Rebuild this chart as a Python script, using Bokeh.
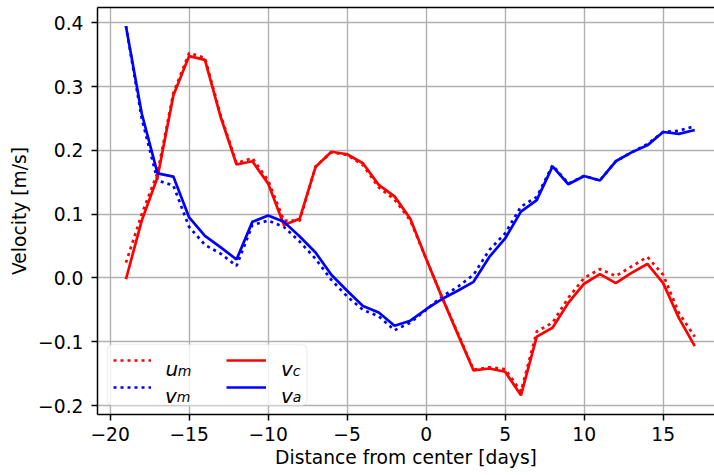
from bokeh.plotting import figure
from bokeh.models import (Range1d, FixedTicker, CustomJSTickFormatter, LinearAxis,
                          Legend, LegendItem, BoxAnnotation, Label)
from bokeh.embed import file_html
from bokeh.resources import INLINE

days = list(range(-19, 18))

u_m = [0.024, 0.100, 0.165, 0.290, 0.353, 0.345, 0.255, 0.180, 0.188, 0.153,
       0.090, 0.090, 0.175, 0.197, 0.193, 0.177, 0.142, 0.123, 0.090, 0.030,
       -0.030, -0.086, -0.144, -0.140, -0.143, -0.178, -0.084, -0.070, -0.031, 0.000,
       0.014, 0.003, 0.018, 0.033, 0.005, -0.055, -0.092]

v_m = [0.395, 0.250, 0.153, 0.145, 0.080, 0.052, 0.038, 0.019, 0.083, 0.090,
       0.080, 0.057, 0.030, -0.003, -0.029, -0.050, -0.060, -0.082, -0.070, -0.050,
       -0.029, -0.014, 0.005, 0.044, 0.070, 0.112, 0.127, 0.177, 0.148, 0.160,
       0.153, 0.183, 0.197, 0.210, 0.229, 0.231, 0.238]

v_c = [-0.002, 0.090, 0.158, 0.286, 0.348, 0.342, 0.252, 0.178, 0.183, 0.148,
       0.083, 0.093, 0.174, 0.198, 0.194, 0.180, 0.146, 0.128, 0.093, 0.030,
       -0.030, -0.088, -0.145, -0.142, -0.147, -0.184, -0.092, -0.078, -0.039, -0.009,
       0.006, -0.008, 0.008, 0.022, -0.008, -0.063, -0.107]

v_a = [0.395, 0.258, 0.164, 0.159, 0.095, 0.066, 0.048, 0.029, 0.088, 0.098,
       0.088, 0.065, 0.040, 0.005, -0.020, -0.044, -0.054, -0.075, -0.067, -0.049,
       -0.033, -0.020, -0.006, 0.033, 0.062, 0.104, 0.122, 0.175, 0.147, 0.160,
       0.153, 0.183, 0.197, 0.208, 0.229, 0.226, 0.232]

x_ticks = [-20, -15, -10, -5, 0, 5, 10, 15]
y_ticks = [-0.2, -0.1, 0.0, 0.1, 0.2, 0.3, 0.4]

x_label = "Distance from center [days]"
y_label = "Velocity [m/s]"

# legend texts: (main letter, subscript)
legend_texts = [("u", "m"), ("v", "m"), ("v", "c"), ("v", "a")]

FONT = "DejaVu Sans"
FS = "18.7px"
LW = 2.7

p = figure(width=714, height=475, output_backend="svg", toolbar_location=None,
           x_range=Range1d(-20.8, 18.25), y_range=Range1d(-0.2141, 0.4242),
           min_border_left=97, min_border_right=0, min_border_top=7, min_border_bottom=61)
p.outline_line_color = None
p.background_fill_color = "white"
p.border_fill_color = "white"

r_um = p.line(days, u_m, line_color="red", line_width=LW, line_dash="3 4")
r_vm = p.line(days, v_m, line_color="blue", line_width=LW, line_dash="3 4")
r_vc = p.line(days, v_c, line_color="red", line_width=LW)
r_va = p.line(days, v_a, line_color="blue", line_width=LW)

for ax, ticks, fmt in ((p.xaxis[0], x_ticks, 0), (p.yaxis[0], y_ticks, 1)):
    ax.ticker = FixedTicker(ticks=ticks)
    ax.formatter = CustomJSTickFormatter(
        code="return tick.toFixed(%d).replace('-', '\u2212');" % fmt)
    ax.axis_line_width = 1.5
    ax.axis_line_color = "black"
    ax.major_tick_line_width = 1.5
    ax.major_tick_line_color = "black"
    ax.major_tick_out = 6
    ax.major_tick_in = 0
    ax.minor_tick_line_color = None
    ax.major_label_text_font = FONT
    ax.major_label_text_font_size = FS
    ax.major_label_text_color = "black"
    ax.axis_label_text_font = FONT
    ax.axis_label_text_font_size = FS
    ax.axis_label_text_font_style = "normal"
    ax.axis_label_text_color = "black"

p.xaxis[0].axis_label = x_label
p.yaxis[0].axis_label = y_label
p.xaxis[0].major_label_standoff = 6
p.yaxis[0].major_label_standoff = 8
p.xaxis[0].axis_label_standoff = 3
p.yaxis[0].axis_label_standoff = 5

top_axis = LinearAxis(ticker=FixedTicker(ticks=[]), major_tick_out=0, major_tick_in=0,
                      minor_tick_line_color=None, major_label_text_font_size="0px",
                      major_label_standoff=0, axis_line_width=1.5, axis_line_color="black")
p.add_layout(top_axis, "above")

for g in (p.xgrid[0], p.ygrid[0]):
    g.grid_line_color = "#b0b0b0"
    g.grid_line_width = 1.4

# legend frame
box = BoxAnnotation(left=10, right=209.4, bottom=9, top=70,
                    left_units="screen", right_units="screen",
                    bottom_units="screen", top_units="screen",
                    fill_color="white", fill_alpha=0.8,
                    line_color="#cccccc", line_width=1.4, border_radius=5)
p.add_layout(box)

common = dict(orientation="vertical", margin=0, padding=0, spacing=5,
              glyph_height=22, label_height=22, label_width=1, label_standoff=0,
              border_line_alpha=0, background_fill_alpha=0,
              label_text_font_size="1px", label_text_alpha=0)

leg1 = Legend(items=[LegendItem(label=" ", renderers=[r_um]),
                     LegendItem(label=" ", renderers=[r_vm])],
              location=(16, 16), glyph_width=38, **common)
leg2 = Legend(items=[LegendItem(label=" ", renderers=[r_vc]),
                     LegendItem(label=" ", renderers=[r_va])],
              location=(129.4, 16), glyph_width=40, **common)
p.add_layout(leg1)
p.add_layout(leg2)

main_pos = [(68.0, 45.7), (67.5, 19.0), (183.5, 45.7), (183.5, 19.0)]
sub_pos = [(80.3, 44.0), (79.3, 17.3), (195.3, 44.0), (195.3, 17.3)]
for (main, sub), (mx, my), (sx, sy) in zip(legend_texts, main_pos, sub_pos):
    p.add_layout(Label(x=mx, y=my, x_units="screen", y_units="screen", text=main,
                       text_font=FONT, text_font_size="20px", text_font_style="italic",
                       text_color="black", text_baseline="alphabetic", text_align="left"))
    p.add_layout(Label(x=sx, y=sy, x_units="screen", y_units="screen", text=sub,
                       text_font=FONT, text_font_size="14px", text_font_style="italic",
                       text_color="black", text_baseline="alphabetic", text_align="left"))

open("out.html", "w").write(file_html(p, INLINE))
